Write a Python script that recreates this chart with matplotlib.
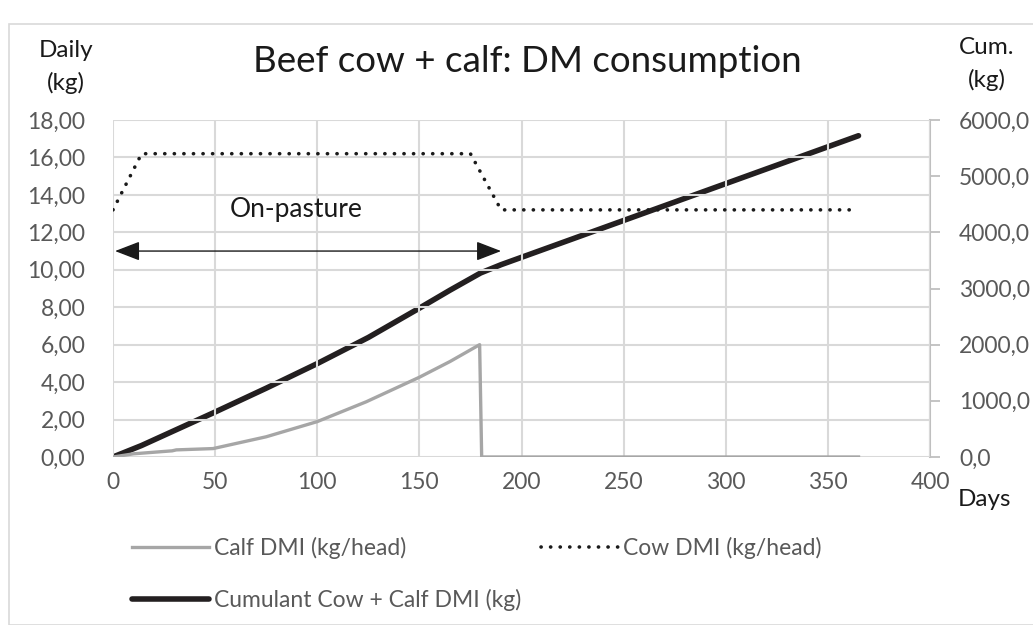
import matplotlib
matplotlib.use("Agg")
import matplotlib.pyplot as plt
from matplotlib.patches import Rectangle
from matplotlib.ticker import FuncFormatter

plt.rcParams['font.family'] = ['Lato', 'DejaVu Sans']

# ---- data ----
calf_days = [0, 3, 10, 29, 31, 49, 75, 100, 124, 150, 165, 179.5, 180.5, 365]
calf_dmi = [0.0, 0.05, 0.17, 0.33, 0.38, 0.45, 1.08, 1.89, 2.95, 4.26, 5.10, 6.00, 0.0, 0.0]

cow_days = [0, 14, 175, 190, 365]
cow_dmi = [13.2, 16.2, 16.2, 13.2, 13.2]

cum_days = [0, 14, 50, 75, 100, 125, 150, 165, 180, 190, 365]
cum_kg = [0, 205, 801, 1225, 1663, 2128, 2650, 2970, 3277, 3424, 5720]

x_ticks = [0, 50, 100, 150, 200, 250, 300, 350, 400]
left_ticks = [0, 2, 4, 6, 8, 10, 12, 14, 16, 18]
right_ticks = [0, 1000, 2000, 3000, 4000, 5000, 6000]

title = "Beef cow + calf: DM consumption"
label_calf = "Calf DMI (kg/head)"
label_cow = "Cow DMI (kg/head)"
label_cum = "Cumulant Cow + Calf DMI (kg)"
annotation = "On-pasture"
arrow_span = (1, 190)
arrow_level = 11.0

W, H = 1033, 625
fig = plt.figure(figsize=(W / 100, H / 100), dpi=100)
fig.patch.set_facecolor('white')

# outer chart border
fig.patches.append(Rectangle((9 / W, 0), 1.2, 1 - 24 / H, transform=fig.transFigure,
                             fill=False, edgecolor='#D9D9D9', linewidth=1.2))

ax = fig.add_axes([113 / W, 1 - 457 / H, (930 - 113) / W, (457 - 120) / H])
ax2 = ax.twinx()

tick_color = '#595959'
grid_color = '#D9D9D9'

ax.set_xlim(0, 400)
ax.set_ylim(0, 18)
ax2.set_ylim(0, 6000)
ax.set_xticks(x_ticks)
ax.set_yticks(left_ticks)
ax2.set_yticks(right_ticks)
ax.grid(True, color=grid_color, linewidth=1.5)
ax.set_axisbelow(True)
for s in ax.spines.values():
    s.set_visible(False)
for s in ax2.spines.values():
    s.set_visible(False)
ax2.spines['right'].set_visible(True)
ax2.spines['right'].set_color('#BFBFBF')
ax2.spines['right'].set_linewidth(1.5)

ax.yaxis.set_major_formatter(FuncFormatter(lambda v, p: f"{v:.2f}".replace('.', ',')))
ax2.yaxis.set_major_formatter(FuncFormatter(lambda v, p: f"{v:.1f}".replace('.', ',')))
ax.tick_params(axis='both', length=0, labelsize=16.5, labelcolor=tick_color)
ax.tick_params(axis='y', pad=20)
ax.tick_params(axis='x', pad=11)
ax2.tick_params(axis='y', length=7, width=1.3, color='#BFBFBF', direction='out',
                labelsize=16.5, labelcolor=tick_color, pad=14)

# series
l_calf, = ax.plot(calf_days, calf_dmi, color='#A6A6A6', linewidth=2.4, solid_joinstyle='round')
l_cow, = ax.plot(cow_days, cow_dmi, color='#1a1a1a', linewidth=2.6,
                 linestyle=(0, (0.05, 2.6)), dash_capstyle='round')
l_cum, = ax2.plot(cum_days, cum_kg, color='#231F20', linewidth=4.0,
                  solid_capstyle='round', solid_joinstyle='round')

ax.set_zorder(ax2.get_zorder() + 1)
ax.patch.set_visible(False)

# arrow + annotation
ax.annotate('', xy=(arrow_span[0], arrow_level), xytext=(arrow_span[1], arrow_level),
            arrowprops=dict(arrowstyle='<|-|>,head_length=0.7,head_width=0.27', color='#1a1a1a',
                            lw=1.0, mutation_scale=22, shrinkA=0, shrinkB=0))
ax.text(89.5, 13.2, annotation, fontsize=19, color='#1a1a1a', ha='center', va='center')

# titles / axis captions
fig.text(527 / W, 1 - 62 / H, title, fontsize=26.5, color='#1a1a1a', ha='center', va='center')
fig.text(66 / W, 1 - 67 / H, "Daily\n(kg)", fontsize=17.5, color='#1a1a1a', ha='center',
         va='center', linespacing=1.55, multialignment='center')
fig.text(987 / W, 1 - 64 / H, "Cum.\n(kg)", fontsize=17.5, color='#1a1a1a', ha='center',
         va='center', linespacing=1.55, multialignment='center')
fig.text(984 / W, 1 - 500 / H, "Days", fontsize=17.5, color='#1a1a1a', ha='center', va='center')

# legend
leg = fig.legend([l_calf, l_cum, l_cow], [label_calf, label_cum, label_cow],
                 ncol=2, loc='upper left', bbox_to_anchor=(123 / W, 1 - 528 / H),
                 frameon=False, fontsize=16.5, labelcolor=tick_color,
                 handlelength=3.35, handletextpad=0.2, columnspacing=0.9,
                 labelspacing=1.3, borderaxespad=0)

fig.savefig('out.png', dpi=100, facecolor='white')
